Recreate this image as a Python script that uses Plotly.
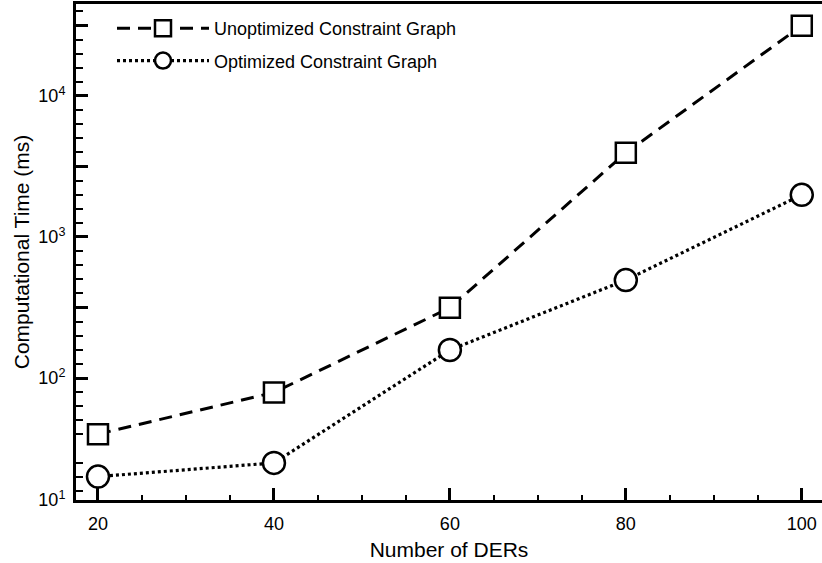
import numpy as np
import plotly.graph_objects as go

# Number of distributed energy resources and computation times (ms)
ders = [20, 40, 60, 80, 100]
unoptimized_ms = [40, 79, 315, 3950, 31500]
optimized_ms = [20, 25, 158, 495, 1990]

series_names = ["Unoptimized Constraint Graph", "Optimized Constraint Graph"]

# Axis extents (log10 units for the y axis)
x_range = [17.5, 102.3]
y_log_range = [1.135, 4.652]

# Major y ticks: decades labelled, half-decades unlabelled; bottom label at axis floor
y_major_exp = [2, 2.5, 3, 3.5, 4, 4.5]
y_major_vals = [10 ** e for e in y_major_exp]
y_major_text = ["10<sup>%d</sup>" % e if float(e).is_integer() else "" for e in y_major_exp]
y_tick_vals = [10 ** y_log_range[0]] + y_major_vals
y_tick_text = ["10<sup>1</sup>"] + y_major_text
y_minor_vals = [10 ** (k / 10) for k in range(12, 47) if k % 5 != 0]

font_family = "Liberation Sans, Arial, Helvetica, sans-serif"

fig = go.Figure()
fig.add_trace(go.Scatter(
    x=ders, y=unoptimized_ms, name=series_names[0], legendgroup="a",
    mode="lines+markers",
    line=dict(color="black", width=3, dash="13px,8px"),
    marker=dict(symbol="square", size=20, color="white",
                line=dict(color="black", width=2.5)),
))
fig.add_trace(go.Scatter(
    x=ders, y=optimized_ms, name=series_names[1], legendgroup="b",
    mode="lines+markers",
    line=dict(color="black", width=3.2, dash="3px,3px"),
    marker=dict(symbol="circle", size=22, color="white",
                line=dict(color="black", width=2.5)),
))

fig.update_layout(
    width=822, height=563,
    margin=dict(l=76, r=0, t=4, b=63),
    paper_bgcolor="white", plot_bgcolor="white",
    font=dict(family=font_family, color="black", size=18),
    showlegend=True,
    legend=dict(
        x=(112 - 76) / 746, y=(500 - 10) / 496,
        xanchor="left", yanchor="top",
        bgcolor="rgba(0,0,0,0)", borderwidth=0,
        font=dict(size=18, family=font_family),
        itemwidth=92, traceorder="grouped", tracegroupgap=6,
    ),
    xaxis=dict(
        range=x_range, tickvals=ders,
        ticks="inside", ticklen=12, tickwidth=2.5, tickcolor="black",
        minor=dict(dtick=5, tick0=0, ticks="inside", ticklen=5,
                   tickwidth=1.5, tickcolor="black"),
        showline=True, linewidth=3, linecolor="black", mirror=True,
        showgrid=False, zeroline=False,
        ticklabelstandoff=5,
        tickfont=dict(size=18),
        title=dict(text="Number of DERs", font=dict(size=21), standoff=10),
    ),
    yaxis=dict(
        type="log", range=y_log_range,
        tickmode="array", tickvals=y_tick_vals, ticktext=y_tick_text,
        ticks="inside", ticklen=12, tickwidth=2.5, tickcolor="black",
        minor=dict(tickvals=y_minor_vals, ticks="inside", ticklen=7,
                   tickwidth=1.5, tickcolor="black"),
        showline=True, linewidth=3, linecolor="black", mirror=False,
        showgrid=False, zeroline=False,
        ticklabelstandoff=4,
        tickfont=dict(size=18),
        title=dict(text="Computational Time (ms)", font=dict(size=21), standoff=4),
    ),
)

fig.write_html("out.html")
